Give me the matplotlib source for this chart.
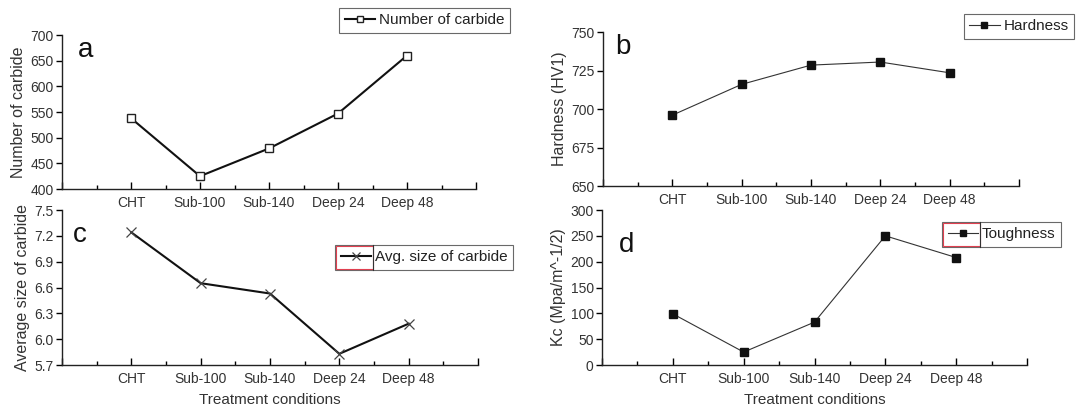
import matplotlib
matplotlib.use("Agg")
import matplotlib.pyplot as plt
from matplotlib.ticker import MultipleLocator, FormatStrFormatter
from matplotlib.patches import Rectangle

plt.rcParams['font.family'] = ['Liberation Sans', 'DejaVu Sans']

categories = ["CHT", "Sub-100", "Sub-140", "Deep 24", "Deep 48"]
num_carbide = [538, 425, 479, 547, 660]
hardness = [696, 716, 728.5, 730.5, 723.5]
avg_size = [7.24, 6.65, 6.53, 5.83, 6.18]
toughness = [99, 25, 83, 250, 208]

W, H = 1077, 411
fig = plt.figure(figsize=(W / 100, H / 100), dpi=100)
TXT = "#333333"


def make_ax(l, r, t, b):
    return fig.add_axes([l / W, 1 - b / H, (r - l) / W, (b - t) / H])


def style(ax, ylim, ystep, ylabel, xlabel=None, letter=None, letter_pos=None):
    ax.set_xlim(0, 6)
    ax.set_ylim(*ylim)
    ax.spines['top'].set_visible(False)
    ax.spines['right'].set_visible(False)
    for s in ('left', 'bottom'):
        ax.spines[s].set_linewidth(1.0)
        ax.spines[s].set_color("#222222")
    ax.set_xticks(range(0, 7))
    ax.set_xticklabels([""] + categories + [""])
    ax.xaxis.set_minor_locator(MultipleLocator(0.5))
    ax.yaxis.set_major_locator(MultipleLocator(ystep))
    ax.tick_params(axis='x', which='major', direction='in', length=5, width=1,
                   labelsize=10, labelcolor=TXT, pad=5)
    ax.tick_params(axis='x', which='minor', direction='in', length=3, width=1)
    ax.tick_params(axis='y', which='major', direction='out', length=4, width=1,
                   labelsize=10, labelcolor=TXT, pad=2)
    ax.set_ylabel(ylabel, fontsize=11.5, color=TXT, labelpad=3)
    if xlabel:
        ax.set_xlabel(xlabel, fontsize=11, color=TXT, labelpad=5)
    ax.patch.set_alpha(0)
    if letter:
        fig.text(letter_pos[0] / W, 1 - letter_pos[1] / H, letter, fontsize=20,
                 color="#111111", ha='center', va='center')


def add_legend(ax, right_px, top_px, ms_scale):
    leg = ax.legend(loc='upper right',
                    bbox_to_anchor=(right_px / W, 1 - top_px / H),
                    bbox_transform=fig.transFigure,
                    fontsize=11, frameon=True, fancybox=False, borderpad=0.35,
                    handlelength=2.0, handletextpad=0.25, borderaxespad=0,
                    edgecolor="#444444", markerscale=ms_scale)
    leg.get_frame().set_linewidth(0.8)
    for t in leg.get_texts():
        t.set_color("#222222")
    return leg


x = list(range(1, 6))

# panel a
ax_a = make_ax(62, 476, 35, 189)
ax_a.plot(x, num_carbide, color="#111111", lw=1.5, marker='s', ms=6,
          mfc='white', mec='#222222', mew=1.0, label="Number of carbide")
style(ax_a, (400, 700), 50, "Number of carbide", letter="a", letter_pos=(86, 50))
add_legend(ax_a, 510, 8, 0.75)

# panel b
ax_b = make_ax(603, 1019, 32, 186)
ax_b.plot(x, hardness, color="#333333", lw=0.8, marker='s', ms=6,
          mfc='#111111', mec='#111111', label="Hardness")
style(ax_b, (650, 750), 25, "Hardness (HV1)", letter="b", letter_pos=(623, 47))
add_legend(ax_b, 1074, 14, 0.7)

# panel c
ax_c = make_ax(62, 478, 210, 365)
ax_c.plot(x, avg_size, color="#111111", lw=1.5, marker='x', ms=7,
          mec='#444444', mew=0.9, label="Avg. size of carbide")
style(ax_c, (5.7, 7.5), 0.3, "Average size of carbide", xlabel="Treatment conditions",
      letter="c", letter_pos=(80, 235))
ax_c.yaxis.set_major_formatter(FormatStrFormatter('%.1f'))
leg_c = add_legend(ax_c, 513, 245, 0.9)

# panel d
ax_d = make_ax(602, 1027, 210, 365)
ax_d.plot(x, toughness, color="#333333", lw=0.8, marker='s', ms=6,
          mfc='#111111', mec='#111111', label="Toughness")
style(ax_d, (0, 300), 50, "Kc (Mpa/m^-1/2)", xlabel="Treatment conditions",
      letter="d", letter_pos=(627, 245))
leg_d = add_legend(ax_d, 1061, 222, 0.7)

# red outline around handle area of legends c and d (as in the reference scan)
fig.canvas.draw()
for leg in (leg_c, leg_d):
    bb = leg.get_window_extent()
    tb = leg.get_texts()[0].get_window_extent()
    x0, x1 = bb.x0 + 1, tb.x0 - 2
    fig.patches.append(Rectangle((x0 / W, (bb.y0 + 1) / H), (x1 - x0) / W,
                                 (bb.height - 2) / H, transform=fig.transFigure,
                                 fill=False, edgecolor="#e04050", lw=0.8))
    fig.lines.append(plt.Line2D([x1 / W, x1 / W], [bb.y0 / H, bb.y1 / H],
                                transform=fig.transFigure, color="#333333", lw=0.8))

fig.savefig("out.png", dpi=100, facecolor="white")
